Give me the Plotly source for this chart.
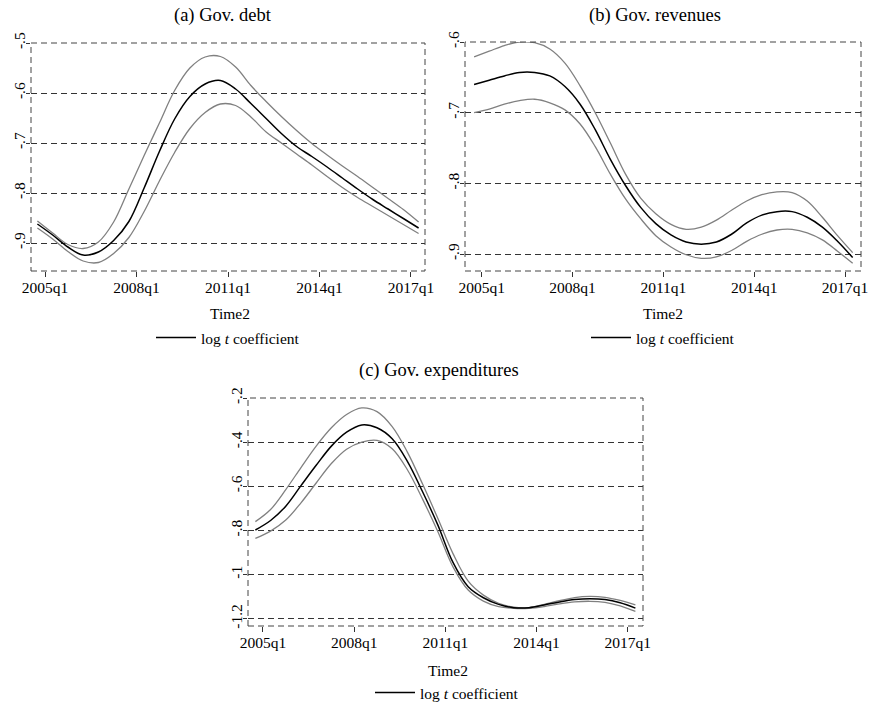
import plotly.graph_objects as go

# quarter index: 2005q1 = 0
quarters = [-1, 1, 3, 5, 7, 9, 11, 13, 15, 17, 19, 21, 23, 25, 27, 29, 31, 33, 35, 37, 39, 41, 43, 45, 47, 49]
tick_quarters = [0, 12, 24, 36, 48]
tick_labels = ["2005q1", "2008q1", "2011q1", "2014q1", "2017q1"]

debt_mean = [-0.862, -0.884, -0.908, -0.924, -0.918, -0.895, -0.857, -0.790, -0.717, -0.652, -0.607, -0.582, -0.575,
             -0.592, -0.621, -0.651, -0.681, -0.707, -0.727, -0.748, -0.770, -0.792, -0.813, -0.832, -0.851, -0.870]
debt_upper = [-0.856, -0.880, -0.903, -0.911, -0.898, -0.858, -0.792, -0.725, -0.660, -0.595, -0.550, -0.528, -0.527,
              -0.548, -0.585, -0.617, -0.647, -0.675, -0.701, -0.724, -0.746, -0.767, -0.789, -0.811, -0.833, -0.858]
debt_lower = [-0.870, -0.892, -0.917, -0.936, -0.939, -0.921, -0.889, -0.837, -0.776, -0.719, -0.671, -0.639, -0.622,
              -0.625, -0.648, -0.678, -0.700, -0.722, -0.744, -0.767, -0.789, -0.809, -0.827, -0.845, -0.863, -0.881]

rev_mean = [-0.660, -0.654, -0.648, -0.643, -0.643, -0.648, -0.663, -0.688, -0.724, -0.766, -0.803, -0.834, -0.857,
            -0.873, -0.883, -0.886, -0.883, -0.872, -0.856, -0.845, -0.840, -0.840, -0.848, -0.862, -0.882, -0.905]
rev_upper = [-0.621, -0.613, -0.605, -0.600, -0.601, -0.610, -0.630, -0.662, -0.700, -0.743, -0.787, -0.821, -0.843,
             -0.858, -0.865, -0.862, -0.852, -0.838, -0.825, -0.816, -0.812, -0.813, -0.825, -0.848, -0.874, -0.898]
rev_lower = [-0.700, -0.695, -0.688, -0.683, -0.681, -0.686, -0.696, -0.716, -0.748, -0.787, -0.822, -0.850, -0.874,
             -0.890, -0.901, -0.906, -0.904, -0.895, -0.882, -0.872, -0.866, -0.865, -0.870, -0.880, -0.896, -0.913]

exp_mean = [-0.798, -0.755, -0.690, -0.597, -0.505, -0.418, -0.355, -0.322, -0.335, -0.385, -0.487, -0.625, -0.775,
            -0.945, -1.055, -1.105, -1.135, -1.150, -1.150, -1.138, -1.124, -1.113, -1.109, -1.113, -1.128, -1.152]
exp_upper = [-0.760, -0.705, -0.615, -0.515, -0.418, -0.335, -0.275, -0.245, -0.262, -0.330, -0.445, -0.590, -0.745,
             -0.905, -1.030, -1.093, -1.130, -1.148, -1.150, -1.135, -1.118, -1.104, -1.099, -1.103, -1.117, -1.137]
exp_lower = [-0.836, -0.803, -0.753, -0.675, -0.585, -0.497, -0.432, -0.400, -0.392, -0.430, -0.525, -0.658, -0.805,
             -0.965, -1.070, -1.120, -1.145, -1.153, -1.153, -1.145, -1.133, -1.124, -1.121, -1.126, -1.142, -1.167]

titles = ["(a) Gov. debt", "(b) Gov. revenues", "(c) Gov. expenditures"]
ytick_vals = [[-0.9, -0.8, -0.7, -0.6, -0.5], [-0.9, -0.8, -0.7, -0.6], [-1.2, -1.0, -0.8, -0.6, -0.4, -0.2]]
ytick_text = [["-.9", "-.8", "-.7", "-.6", "-.5"], ["-.9", "-.8", "-.7", "-.6"], ["-1.2", "-1", "-.8", "-.6", "-.4", "-.2"]]

W, H = 869, 703
FONT = "Liberation Serif, Times New Roman, Times, serif"

# panel geometry in pixels: (left, right, top, bottom)
panels = [(31, 425, 43, 271), (465, 861, 42, 271), (248, 643, 398, 626)]
xranges = [[-1.84, 49.84], [-2.2, 50.1], [-1.97, 50.0]]
yranges = [[-0.956, -0.5], [-0.924, -0.6], [-1.233, -0.2]]

series = [(debt_mean, debt_upper, debt_lower), (rev_mean, rev_upper, rev_lower), (exp_mean, exp_upper, exp_lower)]

fig = go.Figure()
legend_names = ["legend", "legend2", "legend3"]
for i, (m, u, l) in enumerate(series):
    xa = "x" if i == 0 else f"x{i+1}"
    ya = "y" if i == 0 else f"y{i+1}"
    for arr in (u, l):
        fig.add_trace(go.Scatter(x=quarters, y=arr, mode="lines", xaxis=xa, yaxis=ya,
                                 line=dict(color="#808080", width=1.3, shape="spline", smoothing=1.0),
                                 showlegend=False, hoverinfo="skip"))
    fig.add_trace(go.Scatter(x=quarters, y=m, mode="lines", xaxis=xa, yaxis=ya,
                             line=dict(color="#000000", width=1.5, shape="spline", smoothing=1.0),
                             name="log <i>t</i> coefficient", legend=legend_names[i], showlegend=True))

layout = dict(width=W, height=H, margin=dict(l=0, r=0, t=0, b=0, autoexpand=False), paper_bgcolor="white",
              plot_bgcolor="white", font=dict(family=FONT, size=15, color="black"), showlegend=True)

annotations = []
shapes = []
legend_pos = [(228, 338), (663, 338), (447, 693)]
time_pos = [(230, 313), (663, 313), (448, 670)]
title_pos = [(223, 15), (655, 15), (439, 370)]
for i, (L, R, T, B) in enumerate(panels):
    sfx = "" if i == 0 else str(i + 1)
    layout[f"xaxis{sfx}"] = dict(domain=[L / W, R / W], range=xranges[i], tickvals=tick_quarters, ticktext=tick_labels,
                                 ticks="outside", ticklen=5, tickcolor="#333", showgrid=False, zeroline=False,
                                 showline=False, anchor=f"y{sfx}", tickfont=dict(size=15.5, family=FONT),
                                 automargin=False, ticklabelstandoff=-3)
    layout[f"yaxis{sfx}"] = dict(domain=[1 - B / H, 1 - T / H], range=yranges[i], tickvals=ytick_vals[i],
                                 ticktext=ytick_text[i], ticks="outside", ticklen=4, tickcolor="#333",
                                 showgrid=True, gridcolor="#333", gridwidth=1, griddash="6px,4px",
                                 zeroline=False, showline=False, anchor=f"x{sfx}", tickangle=-90,
                                 tickfont=dict(size=15.5, family=FONT), automargin=False, ticklabelstandoff=-5)
    shapes.append(dict(type="rect", xref=f"x{sfx} domain", yref=f"y{sfx} domain", x0=0, x1=1, y0=0, y1=1,
                       line=dict(color="#444", width=1, dash="6px,4px"), fillcolor="rgba(0,0,0,0)", layer="above"))
    annotations.append(dict(text=titles[i], x=title_pos[i][0] / W, y=1 - title_pos[i][1] / H, xref="paper",
                            yref="paper", showarrow=False, font=dict(size=18.5, family=FONT), xanchor="center",
                            yanchor="middle"))
    annotations.append(dict(text="Time2", x=time_pos[i][0] / W, y=1 - time_pos[i][1] / H, xref="paper",
                            yref="paper", showarrow=False, font=dict(size=15.5, family=FONT), xanchor="center",
                            yanchor="middle"))
    layout[legend_names[i]] = dict(x=legend_pos[i][0] / W, y=1 - legend_pos[i][1] / H, xanchor="center",
                                   yanchor="middle", bgcolor="rgba(0,0,0,0)", font=dict(size=15.5, family=FONT),
                                   itemwidth=40, borderwidth=0)

layout["annotations"] = annotations
layout["shapes"] = shapes
fig.update_layout(**layout)
fig.write_html("out.html", config={"displayModeBar": False},
               post_script="document.body.style.margin='0px';")
